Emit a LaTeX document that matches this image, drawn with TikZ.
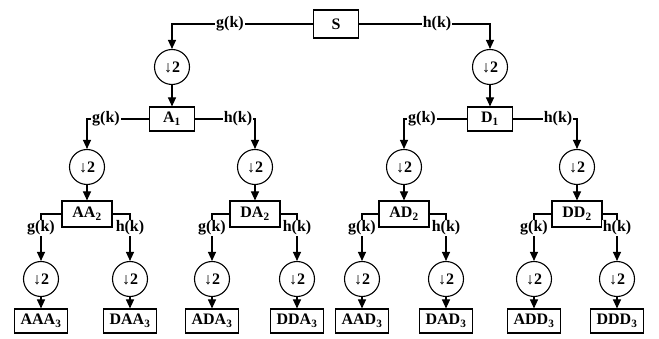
\documentclass[tikz,border=0pt]{standalone}
\usepackage{fontspec}
\setmainfont{Liberation Serif}
\usetikzlibrary{arrows.meta}
\begin{document}
\begin{tikzpicture}[x=1pt,y=-1pt,
  txt/.style={font=\fontsize{16}{18}\selectfont\bfseries},
  box/.style={txt, draw, line width=1.1pt, minimum height=24pt, inner sep=1pt, fill=white},
  ds/.style={txt, draw, circle, line width=1.1pt, minimum size=35pt, inner sep=0pt},
  lbl/.style={txt, fill=white, inner sep=1pt},
  ln/.style={line width=1.1pt},
  arr/.style={ln, -{Triangle[length=9pt,width=8pt]}}]
\useasboundingbox (0,0) rectangle (659,339);
\newcommand{\dsx}{{\mdseries ↓}2}
% level 0
\node[box, minimum width=45pt, minimum height=28pt] (S) at (336,24) {S};
% level 1
\node[ds] (c1a) at (172,67) {\dsx};
\node[ds] (c1d) at (490,67) {\dsx};
\node[box, minimum width=45pt] (A1) at (172,119) {A\textsubscript{1}};
\node[box, minimum width=45pt] (D1) at (490,119) {D\textsubscript{1}};
% level 2
\node[ds] (c2aa) at (87,167) {\dsx};
\node[ds] (c2da) at (255,167) {\dsx};
\node[ds] (c2ad) at (404,167) {\dsx};
\node[ds] (c2dd) at (577,167) {\dsx};
\node[box, minimum width=50pt, minimum height=26pt] (AA2) at (87,214) {AA\textsubscript{2}};
\node[box, minimum width=50pt, minimum height=26pt] (DA2) at (255,214) {DA\textsubscript{2}};
\node[box, minimum width=50pt, minimum height=26pt] (AD2) at (404,214) {AD\textsubscript{2}};
\node[box, minimum width=50pt, minimum height=26pt] (DD2) at (577,214) {DD\textsubscript{2}};
% level 3
\foreach \n/\x in {aaa/41,daa/130,ada/212,dda/297,aad/362,dad/446,add/534,ddd/617}
  \node[ds] (c3\n) at (\x,279) {\dsx};
\foreach \n/\x/\t in {aaa/41/AAA,daa/130/DAA,ada/212/ADA,dda/297/DDA,aad/362/AAD,dad/446/DAD,add/534/ADD,ddd/617/DDD}
  \node[box, minimum width=53pt] (b3\n) at (\x,321) {\t\textsubscript{3}};
% connectors level 0 -> 1
\draw[arr] (S.west) -| (c1a);
\draw[arr] (S.east) -| (c1d);
\draw[arr] (c1a) -- (A1);
\draw[arr] (c1d) -- (D1);
% level 1 -> 2
\draw[arr] (A1.west) -| (c2aa);
\draw[arr] (A1.east) -| (c2da);
\draw[arr] (D1.west) -| (c2ad);
\draw[arr] (D1.east) -| (c2dd);
\draw[arr] (c2aa) -- (AA2);
\draw[arr] (c2da) -- (DA2);
\draw[arr] (c2ad) -- (AD2);
\draw[arr] (c2dd) -- (DD2);
% level 2 -> 3
\draw[arr] (AA2.west) -| (c3aaa);
\draw[arr] (AA2.east) -| (c3daa);
\draw[arr] (DA2.west) -| (c3ada);
\draw[arr] (DA2.east) -| (c3dda);
\draw[arr] (AD2.west) -| (c3aad);
\draw[arr] (AD2.east) -| (c3dad);
\draw[arr] (DD2.west) -| (c3add);
\draw[arr] (DD2.east) -| (c3ddd);
\foreach \n in {aaa,daa,ada,dda,aad,dad,add,ddd}
  \draw[arr] (c3\n) -- (b3\n);
% labels
\node[lbl] (g0) at (230,24) {g(k)};
\node[lbl] (h0) at (437,24) {h(k)};
\node[lbl] (g1a) at (106,119) {g(k)};
\node[lbl] (h1a) at (238,119) {h(k)};
\node[lbl] (g1d) at (422,119) {g(k)};
\node[lbl] (h1d) at (558,119) {h(k)};
\foreach \n/\x/\t in {gaa/41/g,haa/130/h,gda/212/g,hda/297/h,gad/362/g,had/446/h,gdd/534/g,hdd/617/h}
  \node[lbl] (l\n) at (\x,228) {\t(k)};
\end{tikzpicture}
\end{document}
